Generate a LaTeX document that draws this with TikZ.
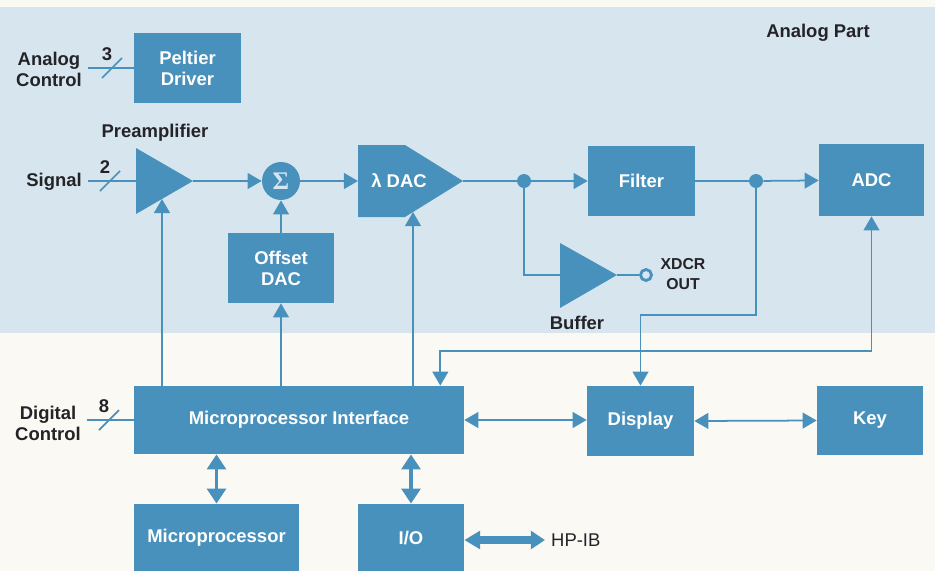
\documentclass[tikz,border=0pt]{standalone}
\usepackage{fontspec}
\setmainfont{Liberation Sans}
\newfontfamily\sigmafont{Liberation Serif}
\usetikzlibrary{arrows.meta,positioning}
\definecolor{hpblue}{RGB}{72,145,188}
\definecolor{bgblue}{RGB}{215,230,238}
\definecolor{paperi}{RGB}{251,249,243}
\definecolor{inki}{RGB}{35,35,40}
\tikzset{
      myblock/.style 2 args={
        fill=hpblue,
        text=white,
        font=\fontsize{10.5}{12}\selectfont\bfseries,
        align=center,
        inner sep=0pt,
        minimum width=#1,
        minimum height=#2
      },
      mytext/.style={
        text=inki,
        font=\fontsize{10.5}{12}\selectfont\bfseries,
        align=center
      },
      mywire/.style={
        draw=hpblue,
        line width=1pt
      },
      mybus/.style={
        draw=hpblue,
        line width=2.2pt,
        {Triangle[length=8.5pt,width=10.5pt]}-{Triangle[length=8.5pt,width=10.5pt]}
      },
      myhpib/.style={
        draw=hpblue,
        line width=4pt,
        {Triangle[length=9pt,width=10pt]}-{Triangle[length=8pt,width=10pt]}
      },
      mydot/.style={
        circle,
        fill=hpblue,
        inner sep=0pt,
        minimum size=0.28cm
      },
    }
\newcommand{\buswidth}[4]{%
  \draw[mywire] ([shift={(-10,10)}]#2,#3) -- ([shift={(10,-10)}]#2,#3);
  \node[mytext] (#1) at ([shift={(-5,-14)}]#2,#3) {#4};
}

\begin{document}
\begin{tikzpicture}[x=0.02cm,y=-0.02cm,>={Triangle[length=8pt,width=9pt]}]

          \fill[paperi] (0,0) rectangle (935,571);
          \fill[bgblue] (0,7) rectangle (935,333);
          \useasboundingbox (0,0) rectangle (935,571);

          \node[mytext] (analogpart) at (818,33) {Analog Part};

          % analog part
          \node[myblock={2.14cm}{1.4cm}]
            (peltier) at (187.5,68)
            {Peltier\\Driver};
          \node[mytext,anchor=east]
            (analogctl) at (88,69)
            {Analog\\Control};
          \draw[mywire] (analogctl.east |- peltier.west) -- (peltier.west);
          \buswidth{nthree}{112}{68}{3}

          \fill[hpblue] (136,148) -- (193,181) -- (136,214) -- cycle;
          \coordinate (prein) at (136,181);
          \coordinate (preout) at (193,181);
          \coordinate (prefoot) at (162,199);
          \node[mytext] (preamplabel) at (155,133) {Preamplifier};
          \node[mytext,anchor=east]
            (signal) at (88,182)
            {Signal};
          \draw[mywire] (signal.east |- prein) -- (prein);
          \buswidth{ntwo}{110}{181}{2}

          \node[circle,fill=hpblue,minimum size=0.76cm,inner sep=0pt,text=bgblue]
            (sigma) at (281,181)
            {\sigmafont\bfseries\Large Σ};
          \node[myblock={2.12cm}{1.4cm}]
            (offset) at (281,268)
            {Offset\\DAC};

          \fill[hpblue] (358,145) -- (405,145) -- (463,181) -- (405,217) -- (358,217) -- cycle;
          \coordinate (dacin) at (358,181);
          \coordinate (dacout) at (463,181);
          \coordinate (dacfoot) at (413,212);
          \node[text=white,font=\fontsize{10.5}{12}\selectfont\bfseries] (dac) at (399,181) {λ DAC};

          \node[mydot] (dotone) at (524,181) {};
          \node[myblock={2.14cm}{1.42cm}]
            (filter) at (641.5,181)
            {Filter};
          \node[mydot] (dottwo) at (756,181) {};
          \node[myblock={2.1cm}{1.44cm}]
            (adc) at (871.5,180)
            {ADC};

          \fill[hpblue] (560,243) -- (617,275) -- (560,308) -- cycle;
          \coordinate (bufin) at (560,275);
          \coordinate (bufout) at (617,275);
          \node[circle,draw=hpblue,fill=bgblue,line width=1.6pt,minimum size=0.22cm,inner sep=0pt]
            (xdcr) at (646,275) {};
          \node[mytext,font=\bfseries\small] (xdcrlabel) at (683,274) {XDCR\\OUT};
          \node[mytext] (bufferlabel) at (577,323) {Buffer};

          % digital part
          \node[myblock={6.6cm}{1.36cm}]
            (mpi) at (299,420)
            {Microprocessor Interface};
          \node[mytext,anchor=east]
            (digital) at (87,423)
            {Digital\\Control};
          \draw[mywire] (digital.east |- mpi.west) -- (mpi.west);
          \buswidth{neight}{109}{420}{8}

          \node[myblock={2.14cm}{1.4cm}]
            (display) at (640.5,421)
            {Display};
          \node[myblock={2.12cm}{1.38cm}]
            (key) at (870,420.5)
            {Key};
          \node[myblock={3.3cm}{1.34cm}]
            (micro) at (216.5,537.5)
            {Microprocessor};
          \node[myblock={2.12cm}{1.34cm}]
            (io) at (411,537.5)
            {I/O};
          \node[text=inki,anchor=west,font=\fontsize{10.5}{12}\selectfont] (hpib) at (545,540) {HP-IB};

          \draw[mywire,->] (preout) -- (sigma);
          \draw[mywire,->] (sigma) -- (dacin);
          \draw[mywire] (dacout) -- (dotone);
          \draw[mywire,->] (dotone) -- (filter);
          \draw[mywire] (dotone) |- (bufin);
          \draw[mywire] (bufout) -- (xdcr);
          \draw[mywire] (filter) -- (dottwo);
          \draw[mywire,->] (dottwo) -- (adc);
          \draw[mywire,->] (offset) -- (sigma);
          \draw[mywire,->] (prefoot |- mpi.north) -- (prefoot);
          \draw[mywire,->] (mpi.north -| offset.south) -- (offset.south);
          \draw[mywire,->] (dacfoot |- mpi.north) -- (dacfoot);
          \draw[mywire,<->] (adc.south) -- ++(0,135) -| ([xshift=-0.48cm]mpi.north east);
          \draw[mywire,->] (dottwo) -- ++(0,134) -| (display.north);
          \draw[mywire,<->] (mpi.east) -- (mpi.east -| display.west);
          \draw[mywire,<->] (display.east) -- (key.west);
          \draw[mybus] (micro.north) -- (micro.north |- mpi.south);
          \draw[mybus] (io.north) -- (io.north |- mpi.south);
          \draw[myhpib] (io.east |- hpib.west) -- (hpib.west);
        \end{tikzpicture}
\end{document}
